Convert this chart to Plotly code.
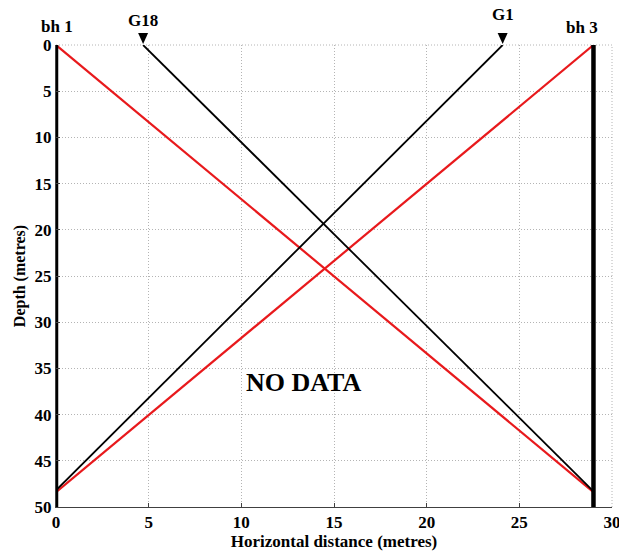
import plotly.graph_objects as go

# Data
borehole_names = ["bh 1", "bh 3"]
borehole_x = [0, 29]

gauge_names = ["G18", "G1"]
gauge_top_x = [4.7, 24.1]
gauge_end_x = [29, 0]
gauge_end_depth = [48.3, 48.2]

red_start_x = [0, 29]
red_end_x = [29, 0]
red_end_depth = [48.4, 48.4]

x_ticks = [0, 5, 10, 15, 20, 25, 30]
y_ticks = [0, 5, 10, 15, 20, 25, 30, 35, 40, 45, 50]

FONT = "Liberation Serif"
BOLD = dict(family=FONT, size=17, color="black", weight="bold")

fig = go.Figure()

for sx, ex, ed in zip(red_start_x, red_end_x, red_end_depth):
    fig.add_trace(go.Scatter(x=[sx, ex], y=[0, ed], mode="lines",
                             line=dict(color="#e8191c", width=2.2),
                             showlegend=False, hoverinfo="skip"))

for gx, ex, ed in zip(gauge_top_x, gauge_end_x, gauge_end_depth):
    fig.add_trace(go.Scatter(x=[gx, ex], y=[0, ed], mode="lines",
                             line=dict(color="black", width=1.8),
                             showlegend=False, hoverinfo="skip"))

for bx in borehole_x:
    fig.add_trace(go.Scatter(x=[bx, bx], y=[0, 50], mode="lines",
                             line=dict(color="black", width=4.5),
                             showlegend=False, hoverinfo="skip"))

# Gauge triangles (pixel-sized shapes anchored at gauge top)
for gx in gauge_top_x:
    fig.add_shape(type="path", xref="x", yref="paper", xsizemode="pixel", ysizemode="pixel",
                  xanchor=gx, yanchor=1, path="M -5,12 L 5,12 L 0,1 Z",
                  fillcolor="black", line=dict(color="black", width=0))

label_shift = {"G18": (0, 25), "G1": (0, 31), "bh 1": (1, 19), "bh 3": (-11, 18)}

annotations = []
for name, gx in zip(gauge_names + borehole_names, gauge_top_x + borehole_x):
    dx, dy = label_shift[name]
    annotations.append(dict(x=gx, y=0, xref="x", yref="y", text="<b>" + name + "</b>",
                            showarrow=False, xshift=dx, yshift=dy,
                            font=dict(BOLD, size=17)))
annotations.append(dict(x=13.38, y=36.5, xref="x", yref="y", text="<b>NO DATA</b>",
                        showarrow=False, font=dict(BOLD, size=26)))

axis_common = dict(showgrid=True, gridcolor="#b4b4b4", griddash="1px,2px", gridwidth=1,
                   zeroline=False, showline=True, linecolor="#404040", linewidth=1,
                   ticks="inside", ticklen=4, tickcolor="#404040",
                   tickfont=BOLD, automargin=False, ticklabeloverflow="allow")

fig.update_layout(
    width=619, height=553, autosize=False,
    margin=dict(l=56, r=7, t=45, b=46),
    plot_bgcolor="white", paper_bgcolor="white",
    annotations=annotations,
    font=dict(family=FONT, color="black"),
    xaxis=dict(axis_common, range=[0, 30], tickvals=x_ticks,
               ticktext=["<b>%d</b>" % t for t in x_ticks],
               title=dict(text="<b>Horizontal distance (metres)</b>",
                          font=dict(BOLD, size=17), standoff=0)),
    yaxis=dict(axis_common, range=[50, 0], tickvals=y_ticks,
               ticktext=["<b>%d</b>" % t for t in y_ticks],
               title=dict(text="<b>Depth (metres)</b>",
                          font=dict(BOLD, size=16), standoff=4)),
)

fig.add_shape(type="line", xref="paper", yref="paper", x0=0, x1=1, y0=1, y1=1,
              line=dict(color="#b4b4b4", width=1, dash="1px,2px"), layer="below")
fig.add_shape(type="line", xref="paper", yref="paper", x0=1, x1=1, y0=0, y1=1,
              line=dict(color="#b4b4b4", width=1, dash="1px,2px"), layer="below")

fig.write_html("out.html", config={"displayModeBar": False},
               post_script="document.body.style.margin='0';")
